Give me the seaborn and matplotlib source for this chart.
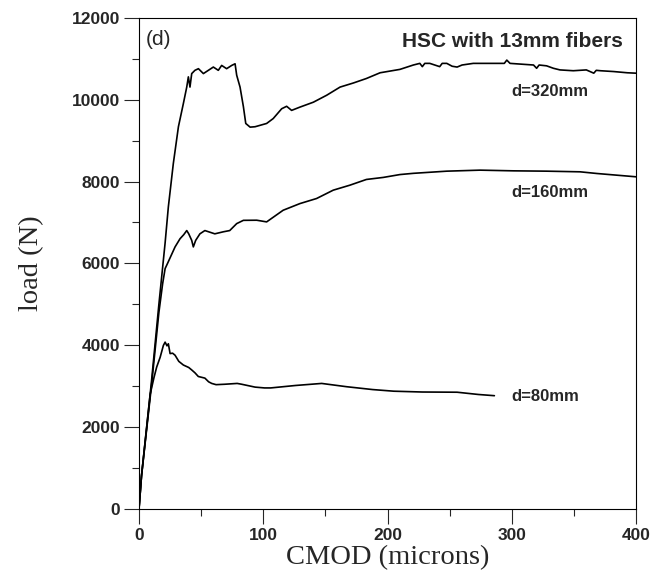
import pandas as pd
import matplotlib
matplotlib.use("Agg")
import matplotlib.pyplot as plt
from matplotlib.ticker import MultipleLocator
import seaborn as sns

# load vs CMOD curves (HSC with 13mm fibers)
cmod_320 = [0, 2, 10, 16, 21, 23.6, 27.6, 31.7, 35.7, 38.4, 39.7, 41, 42.4, 45, 47.8,
            51.8, 55.8, 59.8, 63.8, 66.5, 70.5, 74.6, 77.3, 78.6, 81.3, 84, 85.9, 89.4,
            93.4, 102.7, 108, 114.8, 118.8, 122.8, 129.5, 140.3, 151, 161.8, 172.5, 183,
            194, 210, 220.8, 226, 228, 230, 234, 242, 244, 247.7, 252, 256, 260, 269,
            282.5, 294, 296, 298.6, 317.5, 320, 322, 328, 333.5, 338.8, 349.5, 360, 366,
            368, 371.4, 382, 393, 400]
load_320 = [0, 800, 3100, 5000, 6500, 7380, 8440, 9340, 9910, 10310, 10560, 10310, 10640,
            10720, 10760, 10640, 10720, 10800, 10720, 10840, 10760, 10840, 10880, 10600,
            10310, 9830, 9420, 9330, 9340, 9420, 9540, 9780, 9840, 9740, 9820, 9940, 10110,
            10310, 10410, 10520, 10660, 10743, 10850, 10890, 10810, 10890, 10890, 10810,
            10890, 10890, 10820, 10800, 10850, 10890, 10890, 10890, 10970, 10890, 10850,
            10770, 10850, 10830, 10770, 10730, 10710, 10730, 10650, 10720, 10710, 10690,
            10660, 10650]

cmod_160 = [0, 2, 10, 16, 19, 21, 23, 26, 29, 33, 36, 38.4, 40, 42.4, 43.7, 45.6, 49, 53,
            61, 67.9, 73, 78.6, 84, 94.7, 102.7, 116, 129.5, 142.9, 156.3, 169.7, 183,
            196.6, 210, 220.8, 247.7, 274.5, 301.3, 328, 355, 368.5, 400]
load_160 = [0, 800, 3000, 4800, 5500, 5870, 6000, 6200, 6400, 6600, 6700, 6800, 6720,
            6560, 6400, 6560, 6720, 6800, 6720, 6770, 6800, 6970, 7050, 7053, 7012, 7297,
            7460, 7584, 7788, 7910, 8050, 8100, 8170, 8200, 8253, 8278, 8261, 8253, 8237,
            8196, 8115]

cmod_80 = [0, 2, 9, 12, 14.2, 17, 19.6, 21, 22.5, 23.6, 25, 27, 29, 32, 35.7, 40, 42.4,
           45, 47.7, 53, 56, 58.5, 62, 69, 79, 82.6, 93.4, 101, 106, 126, 147, 167, 188,
           205, 228, 256, 273, 286]
load_80 = [0, 800, 2800, 3200, 3460, 3700, 3990, 4070, 3980, 4030, 3790, 3800, 3750, 3600,
           3510, 3450, 3390, 3320, 3230, 3190, 3100, 3060, 3030, 3040, 3060, 3040, 2970,
           2950, 2950, 3010, 3060, 2980, 2910, 2870, 2850, 2845, 2790, 2760]

curve_labels = ["d=320mm", "d=160mm", "d=80mm"]
label_x = [300, 300, 300]
label_y = [10212, 7739, 2730]

sns.set_style("ticks")
plt.rcParams['font.family'] = ['Liberation Sans', 'DejaVu Sans']

fig = plt.figure(figsize=(6.63, 5.77), dpi=100)
ax = fig.add_axes([0.2097, 0.1187, 0.7496, 0.8501])

for xs, ys in [(cmod_320, load_320), (cmod_160, load_160), (cmod_80, load_80)]:
    df = pd.DataFrame({"CMOD": xs, "load": ys})
    sns.lineplot(data=df, x="CMOD", y="load", ax=ax, color="black", lw=1.2,
                 estimator=None, sort=False)

for txt, lx, ly in zip(curve_labels, label_x, label_y):
    ax.text(lx, ly, txt, fontsize=12, fontweight="bold", ha="left", va="center")

ax.text(5.4, 11486, "(d)", fontsize=15, ha="left", va="center")
ax.text(389.5, 11437, "HSC with 13mm fibers", fontsize=15, fontweight="bold",
        ha="right", va="center")

ax.set_xlim(0, 400)
ax.set_ylim(0, 12000)
ax.xaxis.set_major_locator(MultipleLocator(100))
ax.xaxis.set_minor_locator(MultipleLocator(50))
ax.yaxis.set_major_locator(MultipleLocator(2000))
ax.yaxis.set_minor_locator(MultipleLocator(1000))

ax.tick_params(which="major", direction="out", length=10.8, width=0.8,
               labelsize=12.5, top=False, right=False)
ax.tick_params(which="minor", direction="out", length=5, width=0.8,
               top=False, right=False)
ax.tick_params(axis="x", which="major", pad=3.5)
ax.tick_params(axis="y", which="major", pad=3)
for lab in ax.get_xticklabels() + ax.get_yticklabels():
    lab.set_fontweight("bold")

for sp in ax.spines.values():
    sp.set_visible(True)
    sp.set_color("black")
    sp.set_linewidth(0.8)

ax.set_xlabel("CMOD (microns)", family=["Liberation Serif", "DejaVu Serif"], fontsize=20.5)
ax.set_ylabel("load (N)", family=["Liberation Serif", "DejaVu Serif"], fontsize=20.5)
ax.xaxis.set_label_coords(0.5, -0.075)
ax.yaxis.set_label_coords(-0.19, 0.5)

fig.savefig("out.png", dpi=100)
